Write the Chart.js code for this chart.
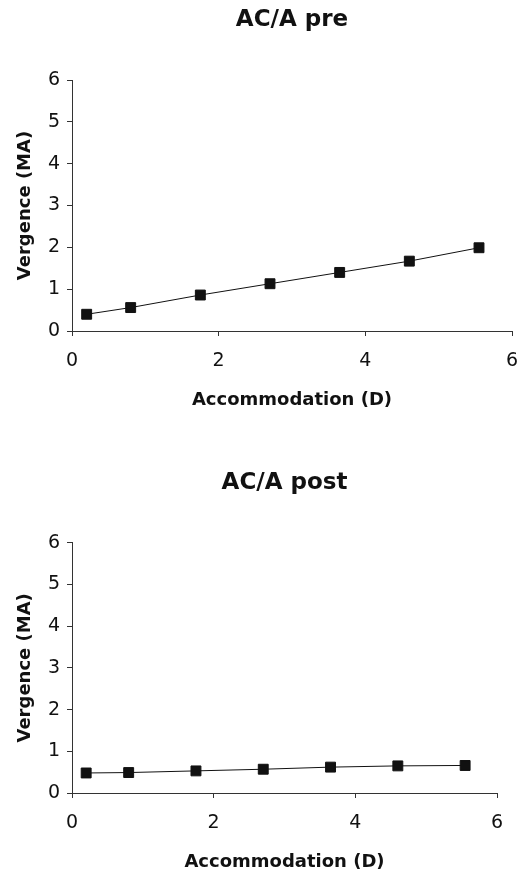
<!DOCTYPE html>
<html>
<head>
<meta charset="utf-8">
<script src="https://cdn.jsdelivr.net/npm/chart.js@4"></script>
<style>
  html, body { margin: 0; padding: 0; background: #fff; }
  .box { position: absolute; left: 0; width: 524px; }
</style>
</head>
<body>
<div class="box" style="top:0;height:430px"><canvas id="preChart" width="524" height="430"></canvas></div>
<div class="box" style="top:430px;height:441px"><canvas id="postChart" width="524" height="441"></canvas></div>
<script>
// values
const accommodation = [0.2, 0.8, 1.75, 2.7, 3.65, 4.6, 5.55];
const vergencePre = [0.40, 0.56, 0.86, 1.13, 1.40, 1.67, 1.99];
const vergencePost = [0.48, 0.49, 0.53, 0.57, 0.62, 0.65, 0.66];
const xTicks = [0, 2, 4, 6];
const yTicks = [0, 1, 2, 3, 4, 5, 6];

const FONT = '"DejaVu Sans", sans-serif';
const INK = '#111';

function makeChart(id, titleText, values, cfg) {
  const ctx = document.getElementById(id).getContext('2d');
  const points = accommodation.map((x, i) => ({ x: x, y: values[i] }));
  return new Chart(ctx, {
    type: 'scatter',
    data: {
      datasets: [{
        data: points,
        showLine: true,
        borderColor: INK,
        borderWidth: 1,
        backgroundColor: INK,
        pointStyle: 'rect',
        pointRadius: 7,
        pointHoverRadius: 7
      }]
    },
    options: {
      responsive: false,
      animation: false,
      layout: { padding: { left: 0, right: cfg.right, top: 0, bottom: 0 } },
      plugins: {
        legend: { display: false },
        tooltip: { enabled: false },
        title: {
          display: true,
          text: titleText,
          fullSize: false,
          color: INK,
          font: { family: FONT, size: 23, weight: 'bold' },
          padding: { top: cfg.titleTop, bottom: cfg.titleBottom }
        }
      },
      scales: {
        x: {
          type: 'linear',
          min: xTicks[0],
          max: xTicks[xTicks.length - 1],
          afterBuildTicks: s => { s.ticks = xTicks.map(v => ({ value: v })); },
          afterFit: s => {
            s.height = cfg.xHeight;
            // the edge labels fit inside the layout padding
            s.paddingLeft = 0;
            s.paddingRight = 0;
          },
          border: { color: '#333', width: 1 },
          grid: { drawOnChartArea: false, drawTicks: true, tickLength: 5, color: '#333' },
          ticks: { color: INK, padding: 14, font: { family: FONT, size: 19 } },
          title: {
            display: true,
            text: 'Accommodation (D)',
            color: INK,
            font: { family: FONT, size: 18, weight: 'bold', lineHeight: 1 },
            padding: { top: 0, bottom: cfg.xTitleBottom }
          }
        },
        y: {
          type: 'linear',
          min: yTicks[0],
          max: yTicks[yTicks.length - 1],
          afterBuildTicks: s => { s.ticks = yTicks.map(v => ({ value: v })); },
          afterFit: s => { s.width = 72; },
          border: { color: '#333', width: 1 },
          grid: { drawOnChartArea: false, drawTicks: true, tickLength: 5, color: '#333' },
          ticks: { color: INK, padding: 7, font: { family: FONT, size: 19 } },
          title: {
            display: true,
            text: 'Vergence (MA)',
            color: INK,
            font: { family: FONT, size: 18, weight: 'bold', lineHeight: 1 },
            padding: { top: 16, bottom: 0 }
          }
        }
      }
    }
  });
}

makeChart('preChart', 'AC/A pre', vergencePre, {
  right: 12, titleTop: 6.2, titleBottom: 46.2, xHeight: 99, xTitleBottom: 21
});
makeChart('postChart', 'AC/A post', vergencePost, {
  right: 27, titleTop: 39.2, titleBottom: 45.9, xHeight: 78, xTitleBottom: 0
});
</script>
</body>
</html>
